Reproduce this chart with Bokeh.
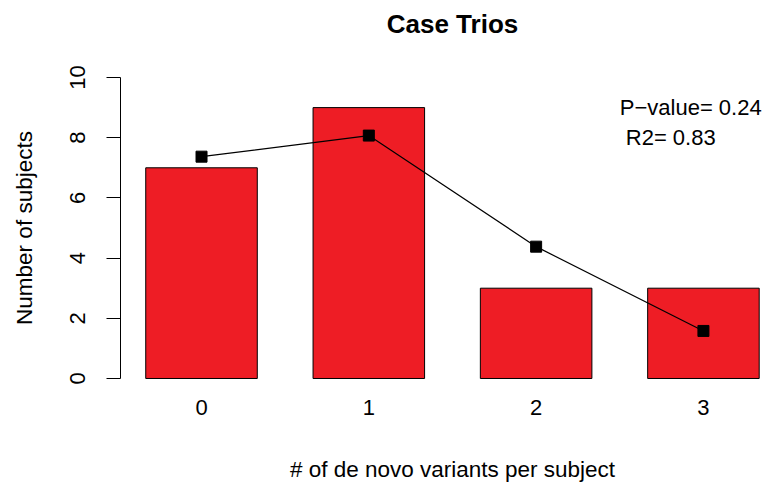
import math
from bokeh.plotting import figure
from bokeh.models import ColumnDataSource, Range1d, FixedTicker, Label
from bokeh.embed import file_html
from bokeh.resources import INLINE

# ---- data ----
categories = ["0", "1", "2", "3"]
counts = [7, 9, 3, 3]
fitted = [7.37, 8.07, 4.38, 1.58]
y_ticks = [0, 2, 4, 6, 8, 10]
title_text = "Case Trios"
x_title = "# of de novo variants per subject"
y_title = "Number of subjects"
stat_lines = ["P\u2212value= 0.24", "R2= 0.83"]

FONT = "Liberation Sans"
xpos = list(range(len(categories)))

src = ColumnDataSource(dict(x=xpos, counts=counts, fitted=fitted))

p = figure(width=765, height=490, output_backend="svg", toolbar_location=None,
           x_range=Range1d(-1.2015, 3.371), y_range=Range1d(-3.721, 12.558),
           min_border_left=0, min_border_right=0, min_border_top=0, min_border_bottom=0)
p.outline_line_color = None
p.xgrid.grid_line_color = None
p.ygrid.grid_line_color = None
p.background_fill_color = "white"
p.border_fill_color = "white"

p.vbar(x="x", top="counts", bottom=0, width=1/1.5, source=src,
       fill_color="#EE1D25", line_color="black", line_width=1)
p.line(x="x", y="fitted", source=src, line_color="black", line_width=1.2)
p.scatter(x="x", y="fitted", source=src, marker="square", size=11,
          fill_color="black", line_color="black")

# y axis
ya = p.yaxis[0]
ya.fixed_location = -0.484
ya.ticker = FixedTicker(ticks=y_ticks)
ya.bounds = (0, 10)
ya.major_label_orientation = "vertical"
ya.major_tick_out = 14
ya.major_tick_in = 0
ya.minor_tick_line_color = None
ya.major_label_standoff = 22
ya.major_label_text_font = FONT
ya.major_label_text_font_size = "22px"
ya.major_label_text_color = "black"
ya.axis_line_color = "black"
ya.major_tick_line_color = "black"

# x axis (labels only)
xa = p.xaxis[0]
xa.fixed_location = -0.4
xa.ticker = FixedTicker(ticks=xpos)
xa.major_label_overrides = {i: c for i, c in zip(xpos, categories)}
xa.axis_line_color = None
xa.major_tick_line_color = None
xa.minor_tick_line_color = None
xa.major_label_standoff = 3
xa.major_label_text_font = FONT
xa.major_label_text_font_size = "22px"
xa.major_label_text_color = "black"

# titles (in data space, the frame spans the whole canvas)
p.add_layout(Label(x=1.5, y=11.78, text=title_text, text_font=FONT, text_font_size="26px",
                   text_font_style="bold", text_align="center", text_baseline="middle",
                   text_color="black"))
p.add_layout(Label(x=1.5, y=-3.02, text=x_title, text_font=FONT, text_font_size="22.5px",
                   text_align="center", text_baseline="middle", text_color="black"))
p.add_layout(Label(x=-1.06, y=5.0, text=y_title, text_font=FONT, text_font_size="22.5px",
                   text_align="center", text_baseline="middle", angle=math.pi / 2,
                   text_color="black"))

# statistics text
p.add_layout(Label(x=2.5, y=9.0, text=stat_lines[0], text_font=FONT, text_font_size="22px",
                   text_align="left", text_baseline="middle", text_color="black"))
p.add_layout(Label(x=2.5, y=8.0, x_offset=6, text=stat_lines[1], text_font=FONT,
                   text_font_size="22px", text_align="left", text_baseline="middle",
                   text_color="black"))

open("out.html", "w").write(file_html(p, INLINE))
